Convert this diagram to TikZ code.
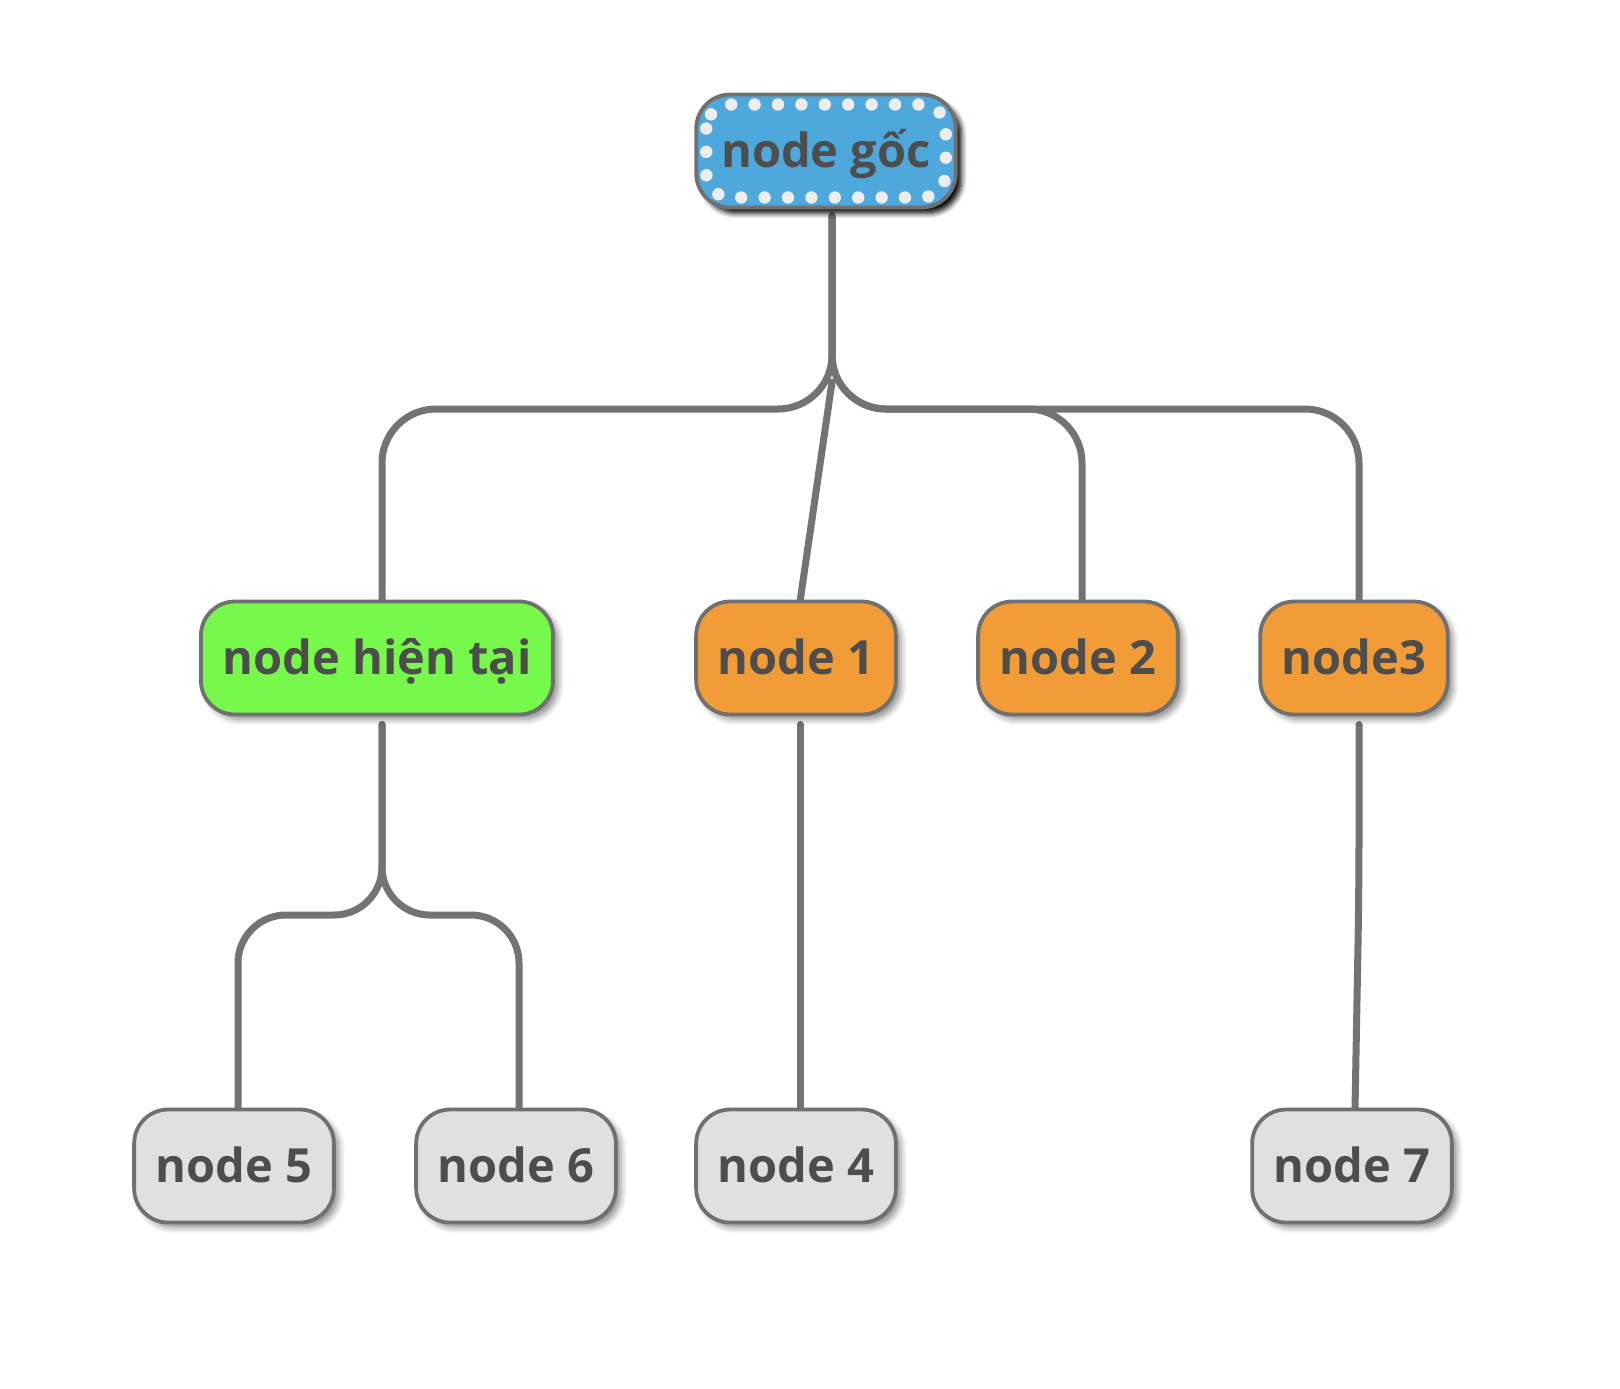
\documentclass[tikz,border=0pt]{standalone}
\usepackage{fontspec}
\setmainfont{Open Sans}
\usetikzlibrary{shadows.blur,backgrounds}
\definecolor{txtc}{HTML}{4D4D4D}
\definecolor{bordc}{HTML}{707070}
\definecolor{linkc}{HTML}{737373}
\definecolor{rootblue}{HTML}{4EA8DC}
\definecolor{curgreen}{HTML}{77F94B}
\definecolor{orangef}{HTML}{F29C38}
\definecolor{greyf}{HTML}{E0E0E0}
\begin{document}
\begin{tikzpicture}[x=0.5pt,y=-0.5pt,
  basebox/.style={draw=bordc, line width=1.9pt, rounded corners=17pt,
    minimum height=56.5pt, inner xsep=10.8pt, inner ysep=0pt, outer sep=0pt,
    text height=16.8pt, text depth=0pt, text=txtc,
    font=\fontsize{23.5}{27}\selectfont\bfseries},
  box/.style={basebox, blur shadow={shadow xshift=2.5pt, shadow yshift=-2.5pt,
    shadow blur steps=6, shadow blur radius=3pt, shadow opacity=45}},
  rootbox/.style={basebox, inner xsep=12.5pt, fill=rootblue, blur shadow={shadow xshift=3pt, shadow yshift=-3pt,
    shadow blur steps=5, shadow blur radius=2.5pt, shadow opacity=95}},
  link/.style={draw=linkc, line width=3.5pt, line cap=round, rounded corners=27pt},
  lowlink/.style={draw=linkc, line width=3.5pt, line cap=round, rounded corners=24pt},
  dots/.style={draw=white!93!black, line width=6.2pt, line cap=round, dash pattern=on 0pt off 11.7pt, rounded corners=12pt}
]
\useasboundingbox (0,0) rectangle (1620,1388);

\node[rootbox] (root) at (826,151) {node gốc};
\draw[dots] ([xshift=5pt,yshift=-5pt]root.north west) rectangle ([xshift=-5pt,yshift=5pt]root.south east);

\node[box, fill=curgreen] (cur) at (377,658) {node hiện tại};
\node[box, fill=orangef] (n1) at (796,658) {node 1};
\node[box, fill=orangef] (n2) at (1078,658) {node 2};
\node[box, fill=orangef] (n3) at (1354,658) {node3};

\node[box, fill=greyf] (n5) at (234,1166) {node 5};
\node[box, fill=greyf] (n6) at (516,1166) {node 6};
\node[box, fill=greyf] (n4) at (796,1166) {node 4};
\node[box, fill=greyf] (n7) at (1352,1166) {node 7};

\coordinate (j1) at (832,382);
\coordinate (j2) at (1359,889);

\begin{pgfonlayer}{background}
\draw[link] ([xshift=3pt,yshift=-4pt]root.south) -- (832,409) -- (382,409) -- ([xshift=2.5pt]cur.north);
\draw[link] ([xshift=3pt,yshift=-4pt]root.south) -- (832,409) -- (1082,409) -- ([xshift=2pt]n2.north);
\draw[link] ([xshift=3pt,yshift=-4pt]root.south) -- (832,409) -- (1359,409) -- ([xshift=2.5pt]n3.north);
\draw[link] (j1) -- ([xshift=2pt]n1.north);

\draw[lowlink] ([xshift=2.5pt,yshift=-5pt]cur.south) -- (382,915) -- (238,915) -- ([xshift=2pt]n5.north);
\draw[lowlink] ([xshift=2.5pt,yshift=-5pt]cur.south) -- (382,915) -- (519,915) -- ([xshift=1.5pt]n6.north);
\draw[link] ([xshift=2pt,yshift=-5pt]n1.south) -- ([xshift=2pt]n4.north);
\draw[link] ([xshift=2.5pt,yshift=-5pt]n3.south) -- (j2) -- ([xshift=1.5pt]n7.north);
\end{pgfonlayer}
\end{tikzpicture}
\end{document}
